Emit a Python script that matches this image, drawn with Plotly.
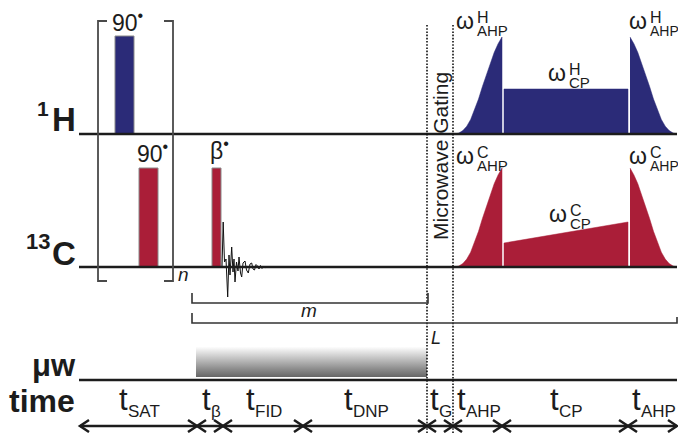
import plotly.graph_objects as go

# ---------------- data (diagram units: x = time axis, amplitudes in px-like units) ----------------
seg_edges = [80, 197, 223, 303, 427, 453, 502, 628, 677]
seg_subs = ["SAT", "β", "FID", "DNP", "G", "AHP", "CP", "AHP"]

h90_span = [115, 134]
h90_amp = 98
c90_span = [139, 158]
c90_amp = 99
beta_span = [212, 221]
beta_amp = 99

ahp_left_span = [455, 502]
ahp_right_span = [630, 677]
cp_span = [504, 628]
ahp_profile = [0, 0.01, 0.035, 0.08, 0.15, 0.25, 0.36, 0.49, 0.61, 0.73, 0.84, 0.93, 1.0]
ahp_amp_H = 97
ahp_amp_C = 99
cp_amp_H = [45, 45]
cp_amp_C = [24, 45]

fid_x = [222, 223.2, 224.5, 226, 227.7, 229, 230, 231.7, 233, 234, 235, 236.5, 238, 239,
         240.5, 241.7, 243, 245, 246.5, 248.3, 250, 251.7, 253, 254.5, 256, 257.5, 259,
         260.5, 262, 263.5, 265, 267, 269, 271, 273, 276, 279, 283, 287]
fid_amp = [0, 45, 5, 8, -30, 12, -8, 20, -5, 8, -15, 5, -4, 10, -6, -10, 4, 6, -3, -6, 3,
           4, -2, -3, 2.5, 1, -2, 1.5, -1.5, 1, -1, 0.8, -0.6, 0.5, -0.4, 0.3, -0.2, 0.1, 0]

mw_span = [196, 427]
gate_times = [427, 453]
loop_n = [98, 173]
loop_m = [192, 428]
loop_L = [192, 677]

# ---------------- styling / layout constants ----------------
W, H = 678, 433
NAVY = "#2b2b78"
RED = "#aa1e38"
INK = "#1c1c1c"
FONT = "Liberation Sans, Arial, sans-serif"
Y_H, Y_C, Y_MW, Y_T = 134, 267, 380, 426
X0 = 79

fig = go.Figure()


def line(x, y, color=INK, width=2.5, dash=None):
    fig.add_trace(go.Scatter(x=x, y=y, mode="lines",
                             line=dict(color=color, width=width, dash=dash),
                             hoverinfo="skip", showlegend=False))


def poly(x, y, fill, outline=None, ow=0.8):
    fig.add_trace(go.Scatter(x=x, y=y, mode="lines", fill="toself", fillcolor=fill,
                             line=dict(color=outline or fill, width=ow),
                             hoverinfo="skip", showlegend=False))


def rect_pulse(span, amp, base, color):
    x0, x1 = span
    poly([x0, x1, x1, x0, x0], [base, base, base - amp, base - amp, base], color, "#8a8a8a", 1)


def ahp(span, amp, base, color, rising=True):
    x0, x1 = span
    n = len(ahp_profile) - 1
    prof = ahp_profile if rising else ahp_profile[::-1]
    xs = [x0 + (x1 - x0) * k / n for k in range(n + 1)] + [x1, x0]
    ys = [base - amp * p for p in prof] + [base, base]
    poly(xs, ys, color, color, 0.5)


def txt(x, base, s, size, xanchor="center", bold=False, italic=False, color=INK):
    fig.add_annotation(x=x, y=base + 0.212 * size, yanchor="bottom", xanchor=xanchor,
                       text=s, showarrow=False, borderpad=0,
                       font=dict(family=FONT, size=size, color=color,
                                 weight="bold" if bold else "normal",
                                 style="italic" if italic else "normal"))


# microwave gradient bar
fig.add_trace(go.Scatter(x=[mw_span[0], mw_span[1], mw_span[1], mw_span[0], mw_span[0]],
                         y=[347, 347, 377, 377, 347], mode="lines", fill="toself",
                         line=dict(width=0, color="rgba(0,0,0,0)"),
                         fillgradient=dict(type="vertical",
                                           colorscale=[[0, "#666666"], [0.25, "#8a8a8a"],
                                                       [1, "#fdfdfd"]]),
                         hoverinfo="skip", showlegend=False))

# pulses
rect_pulse(h90_span, h90_amp, Y_H, NAVY)
rect_pulse(c90_span, c90_amp, Y_C, RED)
rect_pulse(beta_span, beta_amp, Y_C, RED)

ahp(ahp_left_span, ahp_amp_H, Y_H, NAVY, True)
ahp(ahp_right_span, ahp_amp_H, Y_H, NAVY, False)
ahp(ahp_left_span, ahp_amp_C, Y_C, RED, True)
ahp(ahp_right_span, ahp_amp_C, Y_C, RED, False)
poly([cp_span[0], cp_span[1], cp_span[1], cp_span[0], cp_span[0]],
     [Y_H, Y_H, Y_H - cp_amp_H[1], Y_H - cp_amp_H[0], Y_H], NAVY, NAVY, 0.5)
poly([cp_span[0], cp_span[1], cp_span[1], cp_span[0], cp_span[0]],
     [Y_C, Y_C, Y_C - cp_amp_C[1], Y_C - cp_amp_C[0], Y_C], RED, RED, 0.5)

# FID
line(fid_x, [Y_C - a for a in fid_amp], color="#111111", width=1)

# baselines
for yb in (Y_H, Y_C, Y_MW):
    line([X0, W - 1], [yb, yb], width=2.5)

# time axis with arrowheads
line([seg_edges[0], seg_edges[-1]], [Y_T, Y_T], width=2.5)
ah_w, ah_h = 9, 6
cx, cy = [], []
for i, e in enumerate(seg_edges):
    dirs = []
    if i > 0:
        dirs.append(1)
    if i < len(seg_edges) - 1:
        dirs.append(-1)
    for d in dirs:
        cx += [e - d * ah_w, e, e - d * ah_w, None]
        cy += [Y_T - ah_h, Y_T, Y_T + ah_h, None]
line(cx, cy, width=2.5)

# gating dotted lines
for g in gate_times:
    line([g, g], [25, H], color="#111111", width=1.6, dash="1.6px,1.6px")

# loop bracket n
BR = "#4a4a4a"
line([loop_n[0] + 9, loop_n[0], loop_n[0], loop_n[0] + 9], [21, 21, 281, 281], color=BR, width=1.8)
line([loop_n[1] - 9, loop_n[1], loop_n[1], loop_n[1] - 9], [21, 21, 281, 281], color=BR, width=1.8)
# m / L brackets
line([loop_m[0], loop_m[0], loop_m[1], loop_m[1]], [293, 303, 303, 293], color="#333333", width=1.6)
line([loop_L[0], loop_L[0], loop_L[1], loop_L[1]], [313, 323, 323, 317], color="#333333", width=1.6)

# channel labels
txt(50, 117, "1", 21, "right", bold=True)
txt(77, 132, "H", 33, "right", bold=True)
txt(51, 250, "13", 22, "right", bold=True)
txt(77, 266, "C", 33, "right", bold=True)
txt(77, 377, "μw", 31, "right", bold=True)
txt(76, 413, "time", 32, "right", bold=True)

# pulse flip angle labels
txt(sum(h90_span) / 2 + 3, 32, "90<sup>•</sup>", 23)
txt(sum(c90_span) / 2 + 4, 163, "90<sup>•</sup>", 23)
txt(sum(beta_span) / 2 + 3, 160, "β<sup>•</sup>", 23)

# loop labels
txt(183.5, 282, "n", 19, italic=True)
txt(308.5, 318, "m", 19, italic=True)
txt(436, 345, "L", 18, italic=True)


# omega labels (stacked super/subscripts in a single two-line block)
def omega(xl, b, sup, sub, subsize=15):
    txt(xl, b, "ω", 23, "left")
    fig.add_annotation(
        x=xl + 21, y=b - 6, xanchor="left", yanchor="middle", showarrow=False, borderpad=0,
        text=f"<span style='font-size:16px'>{sup}</span><br>"
             f"<span style='font-size:{subsize}px'>{sub}</span>",
        font=dict(family=FONT, size=10, color=INK), align="left")


omega(455, 30, "H", "AHP")
omega(628, 30, "H", "AHP", 14)
omega(547, 82, "H", "CP")
omega(455, 165, "C", "AHP")
omega(628, 165, "C", "AHP", 14)
omega(548, 223, "C", "CP")

# microwave gating text
fig.add_annotation(x=440, y=156, text="Microwave Gating", textangle=-90, showarrow=False,
                   xanchor="center", yanchor="middle", borderpad=0,
                   font=dict(family=FONT, size=21, color=INK))

# time segment labels
CW = {"S": .667, "A": .667, "T": .611, "F": .611, "I": .278, "D": .722, "N": .722,
      "P": .667, "G": .778, "H": .722, "C": .722, "β": .57}
T_SIZE, S_SIZE = 31, 17
for i, s in enumerate(seg_subs):
    c = (seg_edges[i] + seg_edges[i + 1]) / 2
    wt = 0.278 * T_SIZE
    ws = sum(CW[ch] for ch in s) * S_SIZE
    left = c - (wt + ws) / 2
    txt(left, 411, "t", T_SIZE, "left")
    txt(left + wt + 0.5, 418, s, S_SIZE, "left")

fig.update_layout(
    width=W, height=H, margin=dict(l=0, r=0, t=0, b=0),
    paper_bgcolor="white", plot_bgcolor="white", showlegend=False,
    xaxis=dict(range=[0, W], visible=False, fixedrange=True),
    yaxis=dict(range=[H, 0], visible=False, fixedrange=True),
)
fig.write_html("out.html", config={"displayModeBar": False},
               post_script="document.body.style.margin='0px';"
                           "document.body.style.overflow='hidden';")
